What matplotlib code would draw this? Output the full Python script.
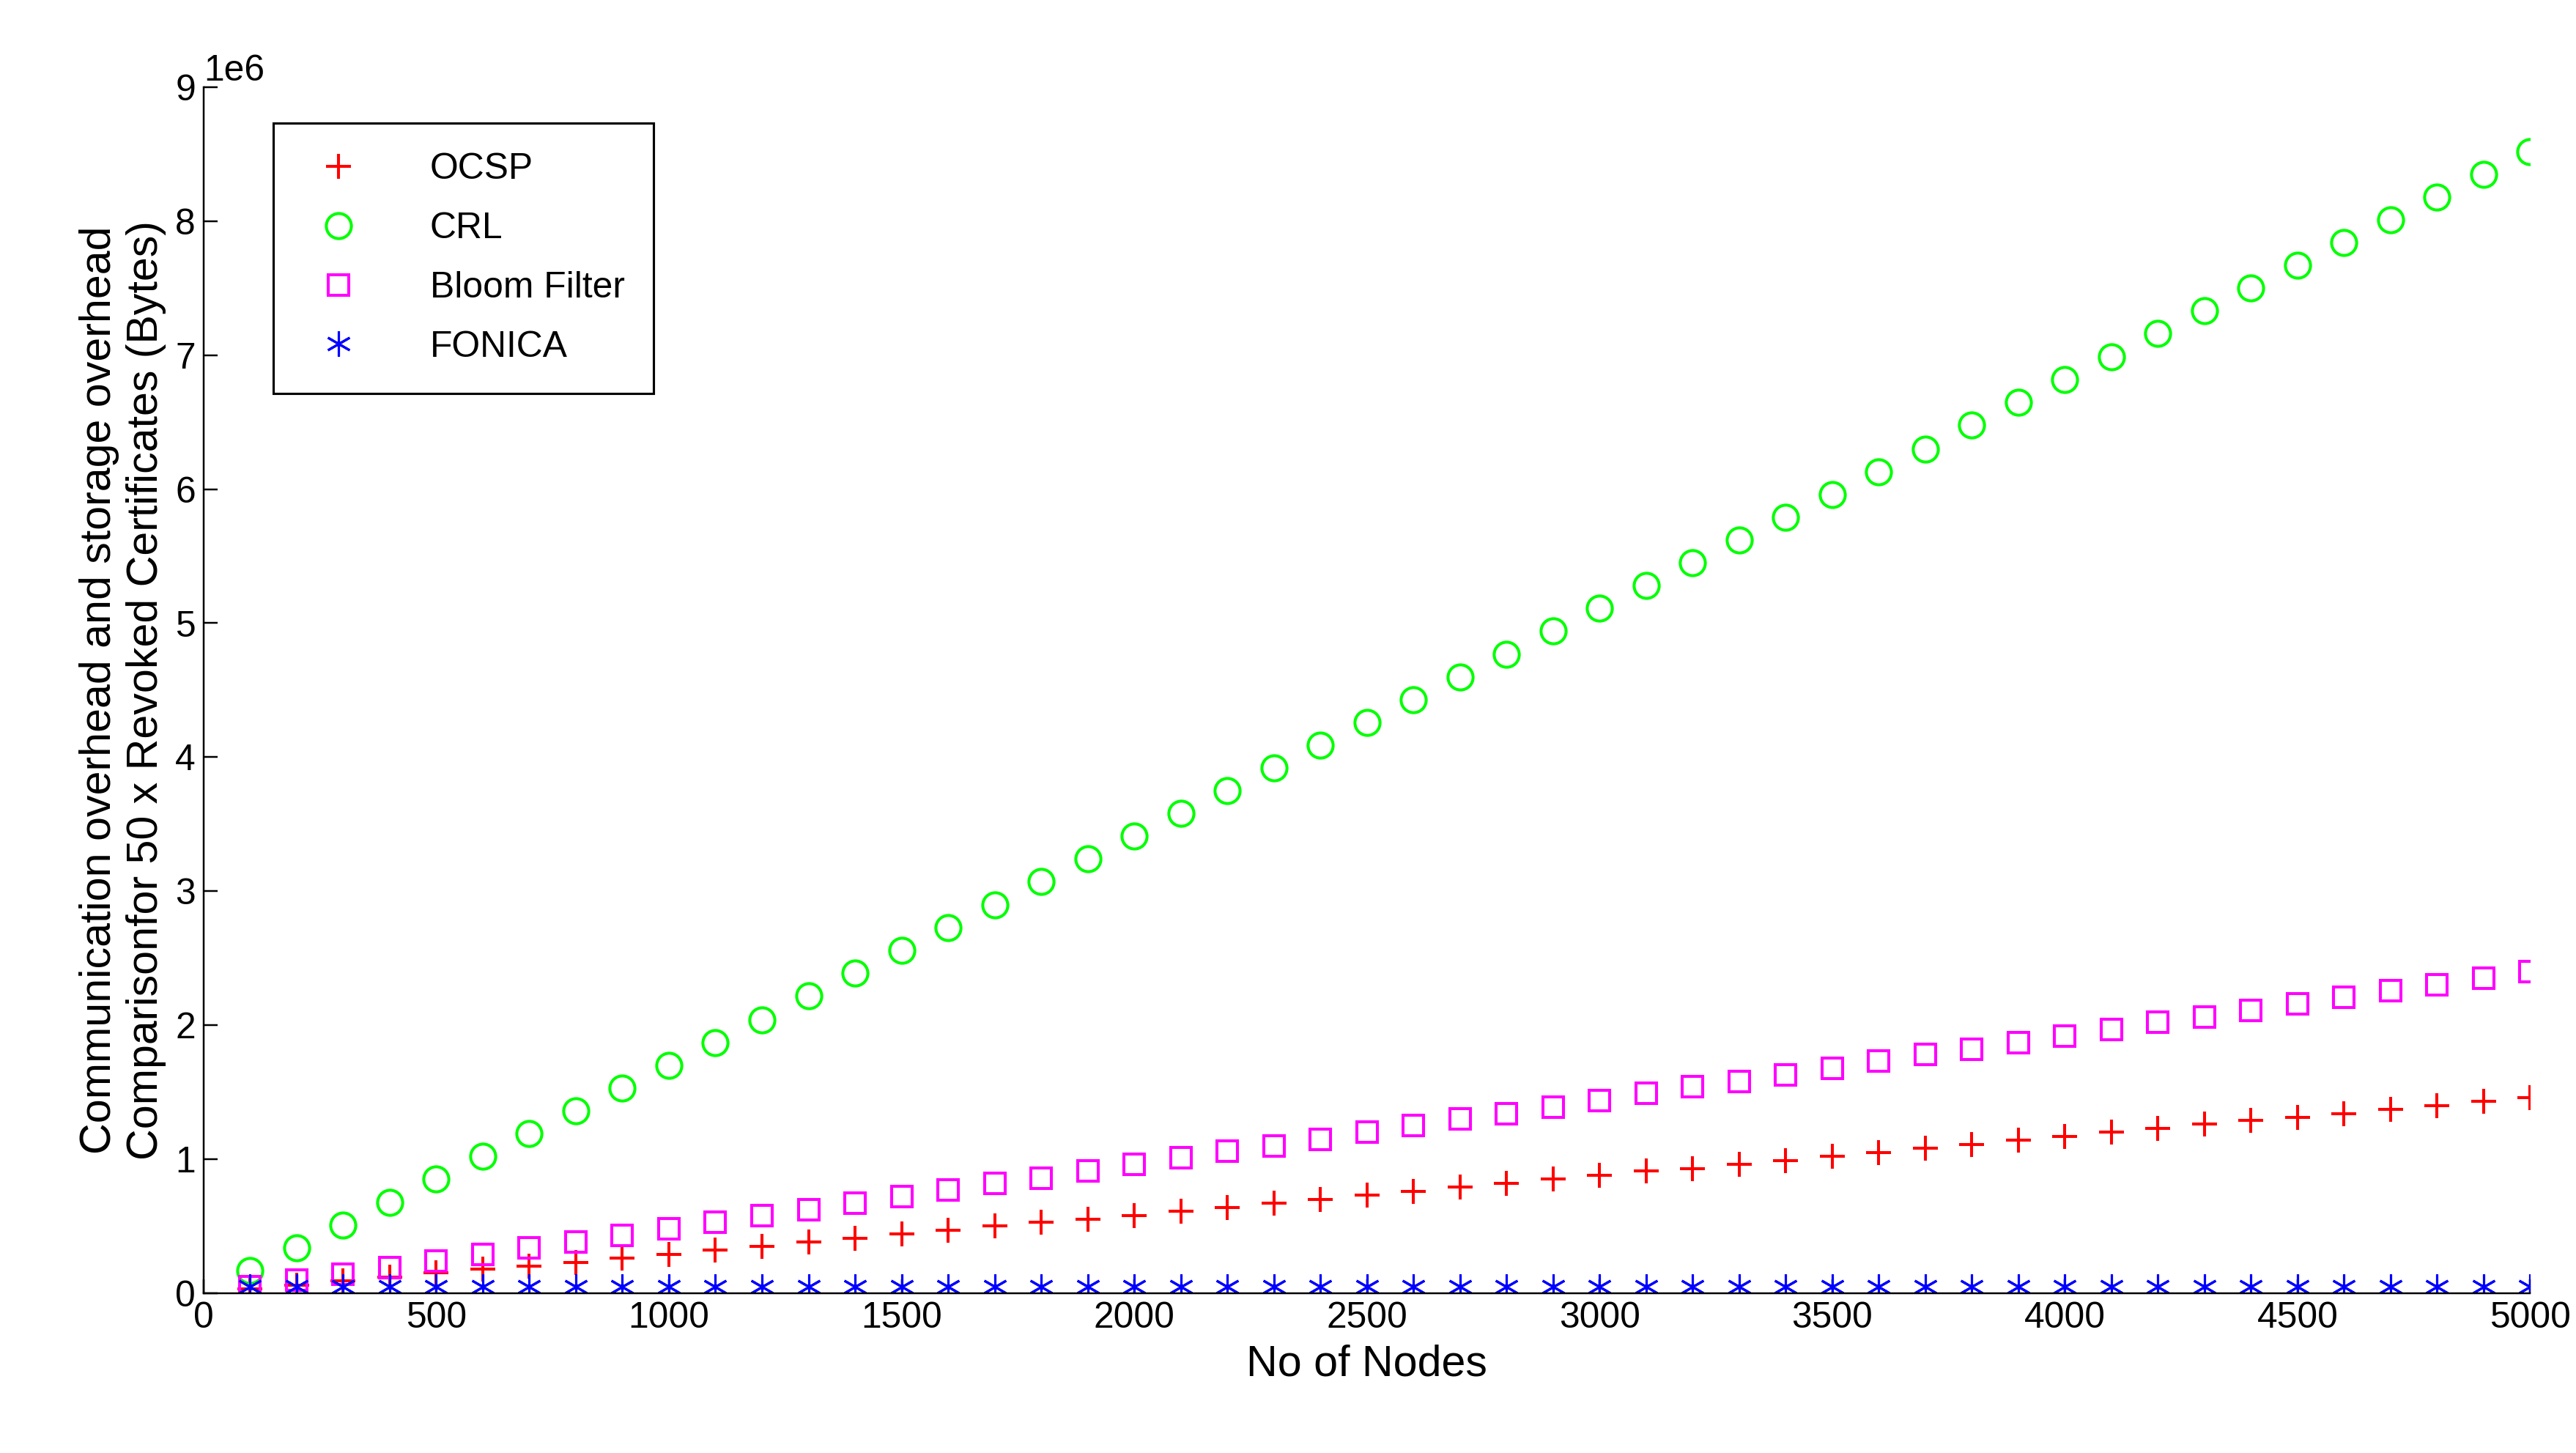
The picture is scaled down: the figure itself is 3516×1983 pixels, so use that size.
import numpy as np
import matplotlib
matplotlib.use("Agg")
import matplotlib.pyplot as plt

plt.rcParams['font.family'] = ['Liberation Sans', 'DejaVu Sans']

nodes = list(range(100, 5001, 100))

# values in units of 1e6 bytes
ocsp = [0.03, 0.06, 0.09, 0.12, 0.15, 0.18, 0.20, 0.23, 0.26, 0.29,
        0.32, 0.35, 0.38, 0.41, 0.44, 0.47, 0.50, 0.53, 0.55, 0.58,
        0.61, 0.64, 0.67, 0.70, 0.73, 0.76, 0.79, 0.82, 0.85, 0.88,
        0.91, 0.93, 0.96, 0.99, 1.02, 1.05, 1.08, 1.11, 1.14, 1.17,
        1.20, 1.23, 1.26, 1.29, 1.31, 1.34, 1.37, 1.40, 1.43, 1.46]
crl = [0.17, 0.34, 0.51, 0.68, 0.85, 1.02, 1.19, 1.36, 1.53, 1.70,
       1.87, 2.04, 2.22, 2.39, 2.56, 2.73, 2.90, 3.07, 3.24, 3.41,
       3.58, 3.75, 3.92, 4.09, 4.26, 4.43, 4.60, 4.77, 4.94, 5.11,
       5.28, 5.45, 5.62, 5.79, 5.96, 6.13, 6.30, 6.48, 6.65, 6.82,
       6.99, 7.16, 7.33, 7.50, 7.67, 7.84, 8.01, 8.18, 8.35, 8.52]
bloom = [0.05, 0.10, 0.14, 0.19, 0.24, 0.29, 0.34, 0.38, 0.43, 0.48,
         0.53, 0.58, 0.62, 0.67, 0.72, 0.77, 0.82, 0.86, 0.91, 0.96,
         1.01, 1.06, 1.10, 1.15, 1.20, 1.25, 1.30, 1.34, 1.39, 1.44,
         1.49, 1.54, 1.58, 1.63, 1.68, 1.73, 1.78, 1.82, 1.87, 1.92,
         1.97, 2.02, 2.06, 2.11, 2.16, 2.21, 2.26, 2.30, 2.35, 2.40]
fonica = [0.05] * 50

scale = 1e6
fig = plt.figure(figsize=(15.7, 8.853), dpi=224)
ax = fig.add_axes([0.079, 0.11, 0.903, 0.83])

ax.plot(nodes, np.array(ocsp) * scale, '+', color='red', ms=11, mew=1.3, label='OCSP', linestyle='none')
ax.plot(nodes, np.array(crl) * scale, 'o', mfc='none', mec='#00ff00', ms=11, mew=1.3, label='CRL', linestyle='none')
ax.plot(nodes, np.array(bloom) * scale, 's', mfc='none', mec='magenta', ms=9, mew=1.3, label='Bloom Filter', linestyle='none')
ax.plot(nodes, np.array(fonica) * scale, '*', color='blue', ms=11, mew=1.0, label='FONICA', linestyle='none')
# make FONICA look like MATLAB asterisk
ax.lines[-1].set_marker((6, 2, 0))

ax.set_xlim(0, 5000)
ax.set_ylim(0, 9e6)
ax.set_xticks(range(0, 5001, 500))
ax.set_yticks(np.arange(0, 9.1e6, 1e6))
ax.ticklabel_format(axis='y', style='sci', scilimits=(6, 6))
ax.yaxis.get_offset_text().set_fontsize(16)
ax.tick_params(labelsize=16, direction='in', length=6)
for s in ['top', 'right']:
    ax.spines[s].set_visible(False)

ax.set_xlabel('No of Nodes', fontsize=19)
ax.set_ylabel('Communication overhead and storage overhead\nComparisonfor 50 x Revoked Certificates (Bytes)', fontsize=19)

leg = ax.legend(loc='upper left', bbox_to_anchor=(0.022, 0.985), fontsize=16, fancybox=False,
                edgecolor='black', framealpha=1, borderpad=0.8, labelspacing=0.7, handletextpad=1.5)
leg.get_frame().set_linewidth(1.0)

fig.savefig('out.png', dpi=224)
